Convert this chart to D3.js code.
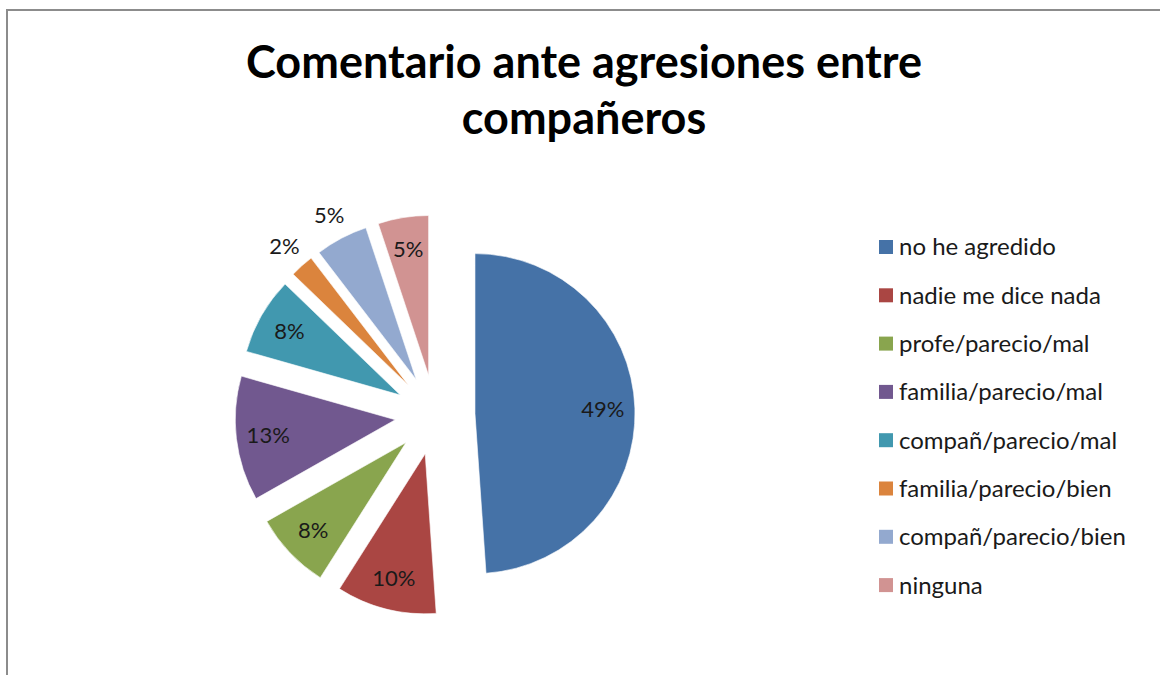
<!DOCTYPE html>
<html>
<head>
<meta charset="utf-8">
<script src="https://cdnjs.cloudflare.com/ajax/libs/d3/7.8.5/d3.min.js"></script>
<style>
  body { margin: 0; background: #fff; }
  svg { display: block; }
</style>
</head>
<body>
<div id="chart"></div>
<script>
var width = 1160,
    height = 675;

// datos (porcentaje)
var categories = ["no he agredido", "nadie me dice nada", "profe/parecio/mal", "familia/parecio/mal",
    "compañ/parecio/mal", "familia/parecio/bien", "compañ/parecio/bien", "ninguna"];
var values = [48.9, 10.1, 7.8, 12.6, 7.8, 2.4, 5.3, 5.1];
var colors = ['#4572A7', '#AA4643', '#89A54E', '#71588F', '#4198AF', '#DB843D', '#93A9CF', '#D19392'];
var titleLines = ["Comentario ante agresiones entre", "compañeros"];
// etiquetas que van fuera del sector
var outsideLabels = ["familia/parecio/bien", "compañ/parecio/bien"];

var svg = d3.select("#chart").append("svg")
    .attr("width", width)
    .attr("height", height);

// marco del grafico
svg.append("rect")
    .attr("x", 7)
    .attr("y", 10)
    .attr("width", 1300)
    .attr("height", 800)
    .attr("fill", "#fff")
    .attr("stroke", "#8c8c8c")
    .attr("stroke-width", 2);

// titulo
svg.append("g").selectAll("text")
    .data(titleLines)
    .enter()
    .append("text")
    .attr("x", 584)
    .attr("y", (d, i) => 78 + i * 56)
    .attr("text-anchor", "middle")
    .attr("font-family", "Lato, 'Open Sans', sans-serif")
    .attr("font-weight", "bold")
    .attr("font-size", 45)
    .attr("fill", "#000")
    .text(d => d);

var total = d3.sum(values);
var cx = 435, cy = 415, radius = 160, explode = 40;

var pie = d3.pie().sort(null).value(d => d);
var arcs = pie(values);
var arc = d3.arc().innerRadius(0).outerRadius(radius);

function offset(d, dist) {
    var a = (d.startAngle + d.endAngle) / 2;
    return [Math.sin(a) * dist, -Math.cos(a) * dist];
}

var pieG = svg.append("g")
    .attr("transform", 'translate(' + cx + ',' + cy + ')');

var slice = pieG.selectAll("g.slice")
    .data(arcs)
    .enter()
    .append("g")
    .attr("class", "slice")
    .attr("transform", d => {
        var o = offset(d, explode);
        return 'translate(' + o[0] + ',' + o[1] + ')';
    });

slice.append("path")
    .attr("d", arc)
    .attr("fill", (d, i) => colors[i])
    .attr("stroke", "#ffffff")
    .attr("stroke-opacity", 0.6)
    .attr("stroke-width", 1);

slice.append("text")
    .attr("transform", (d, i) => {
        var out = outsideLabels.indexOf(categories[i]) >= 0;
        var o = offset(d, out ? radius + 26 : radius * 0.8);
        return 'translate(' + o[0] + ',' + o[1] + ')';
    })
    .attr("dy", "0.35em")
    .attr("text-anchor", "middle")
    .attr("font-family", "Lato, 'Open Sans', sans-serif")
    .attr("font-size", 22)
    .attr("fill", "#1a1a1a")
    .text(d => Math.round(d.value / total * 100) + "%");

// leyenda
var legend = svg.append("g")
    .attr("transform", 'translate(' + 879 + ',' + 247 + ')');

var item = legend.selectAll("g")
    .data(categories)
    .enter()
    .append("g")
    .attr("transform", (d, i) => 'translate(0,' + (i * 48.3) + ')');

item.append("rect")
    .attr("x", 0)
    .attr("y", -7)
    .attr("width", 14)
    .attr("height", 14)
    .attr("fill", (d, i) => colors[i]);

item.append("text")
    .attr("x", 20)
    .attr("dy", "0.35em")
    .attr("font-family", "Lato, 'Open Sans', sans-serif")
    .attr("font-size", 24)
    .attr("fill", "#1a1a1a")
    .text(d => d);
</script>
</body>
</html>
